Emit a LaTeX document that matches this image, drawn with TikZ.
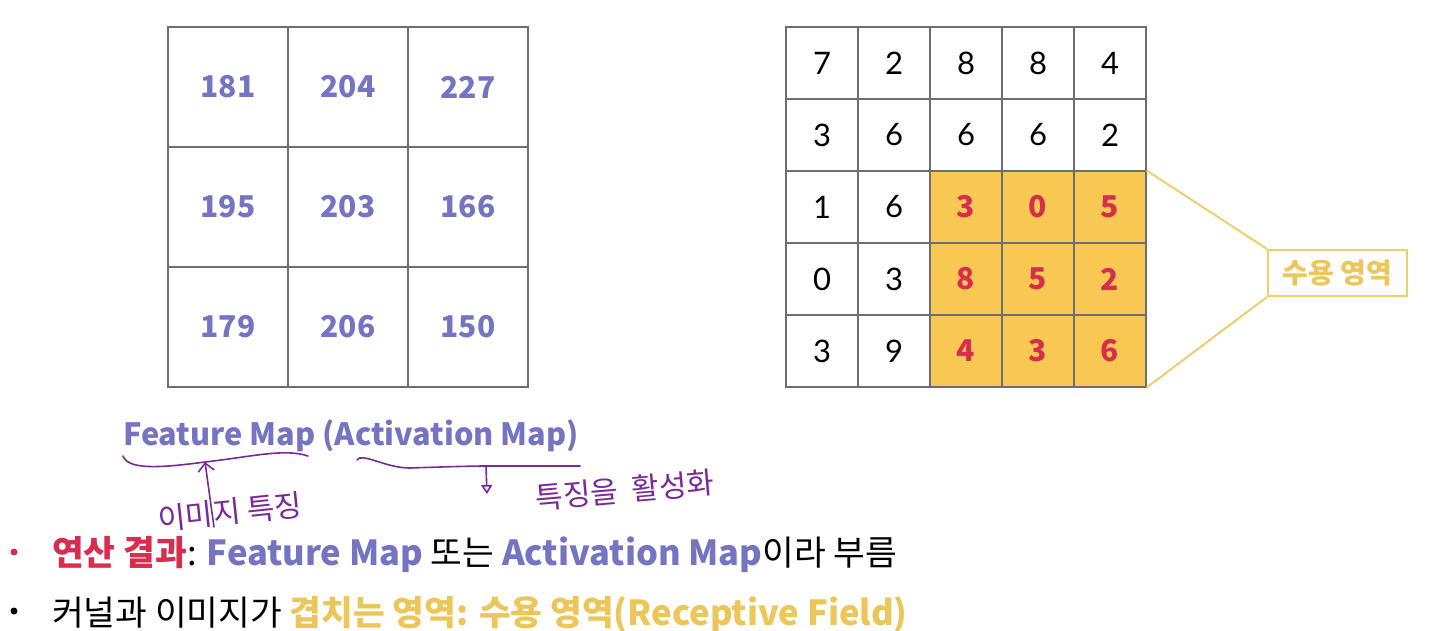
\documentclass[tikz,border=0pt]{standalone}
\usepackage{fontspec}
\setmainfont{Lato}
\newfontfamily\kr{Noto Sans CJK KR}
\usetikzlibrary{arrows.meta}
\definecolor{peri}{HTML}{7474C2}
\definecolor{crim}{HTML}{D92D4F}
\definecolor{cellfill}{HTML}{F8C852}
\definecolor{ylw}{HTML}{EDC659}
\definecolor{ylwline}{HTML}{F0CF6B}
\definecolor{pen}{HTML}{7A2A96}
\definecolor{gridc}{HTML}{6E6E6E}
\tikzset{
  lcell/.style={draw=gridc, line width=1.1pt, minimum size=120pt, inner sep=0pt, text=peri, font=\kr\bfseries\fontsize{30}{30}\selectfont},
  rcell/.style={draw=gridc, line width=1.1pt, minimum size=72pt, inner sep=0pt, text=black, font=\fontsize{31}{31}\selectfont},
  hcell/.style={rcell, fill=cellfill, text=crim, font=\kr\bfseries\fontsize{30}{30}\selectfont},
  rfbox/.style={draw=ylwline, line width=2pt, minimum width=139pt, minimum height=46pt, inner sep=0pt, text=ylw, font=\kr\bfseries\fontsize{28}{28}\selectfont},
  rfline/.style={draw=ylwline, line width=2pt},
  hand/.style={draw=pen, line width=1.6pt, line cap=round, line join=round},
  handtxt/.style={text=pen, font=\kr\fontsize{30}{30}\selectfont, inner sep=0pt},
  bullettxt/.style={anchor=base west, inner sep=0pt, font=\kr\fontsize{34.5}{34.5}\selectfont},
  dot/.style={circle, inner sep=0pt, minimum size=7pt}
}
\begin{document}
\begin{tikzpicture}[x=1pt,y=-1pt]
\useasboundingbox[fill=white] (0,0) rectangle (1433,631);
% left grid (feature map)
\foreach \i/\j/\v in {0/0/181,1/0/204,2/0/227,0/1/195,1/1/203,2/1/166,0/2/179,1/2/206,2/2/150}
  \node[lcell] (L\i\j) at ({228+120*\i},{87+120*\j}) {\v};
% right grid (input)
\foreach \i/\j/\v in {0/0/7,1/0/2,2/0/8,3/0/8,4/0/4,
                      0/1/3,1/1/6,2/1/6,3/1/6,4/1/2,
                      0/2/1,1/2/6,0/3/0,1/3/3,0/4/3,1/4/9}
  \node[rcell] (R\i\j) at ({822+72*\i},{63+72*\j}) {\v};
\foreach \i/\j/\v in {2/2/3,3/2/0,4/2/5,2/3/8,3/3/5,4/3/2,2/4/4,3/4/3,4/4/6}
  \node[hcell] (R\i\j) at ({822+72*\i},{63+72*\j}) {\v};
% receptive field label
\node[rfbox] (rf) at (1337.5,273) {수용 영역};
\draw[rfline] (R42.north east) -- (rf.north west);
\draw[rfline] (R44.south east) -- (rf.south west);
% title
\node[anchor=base west, inner sep=0pt, text=peri, font=\kr\bfseries\fontsize{30.7}{30.7}\selectfont] (title) at (123,445) {Feature Map (Activation Map)};
% handwriting
\coordinate (h1a) at (123,456);
\coordinate (h1m) at (205,462);
\coordinate (h1b) at (308,456);
\draw[hand] (h1a) .. controls (128,470) and (160,468) .. (h1m) .. controls (250,457) and (285,448) .. (h1b);
\coordinate (a1s) at (214,527);
\draw[hand,-{Straight Barb[length=8pt,width=16pt]}] (a1s) -- (h1m);
\node[handtxt, rotate=6] (hw1) at (230,512) {이미지 특징};
\coordinate (h2a) at (357,460);
\coordinate (h2m) at (486,466);
\coordinate (h2b) at (580,466);
\draw[hand] (h2a) .. controls (362,452) and (385,468) .. (410,468) .. controls (440,467) and (470,466) .. (h2m) -- (h2b);
\coordinate (a2e) at (487,494);
\draw[hand,-{Triangle[open,length=9pt,width=11pt]}] (h2m) -- (a2e);
\node[handtxt, rotate=5] (hw2) at (625,490) {특징을 \ 활성화};
% bullets
\node[dot, fill=crim] (b1) at (14,552) {};
\node[bullettxt] (t1) at (52,565) {\textcolor{crim}{\bfseries 연산 결과}: \textcolor{peri}{\bfseries Feature Map} 또는 \textcolor{peri}{\bfseries Activation Map}이라 부름};
\node[dot, fill=black] (b2) at (14,611) {};
\node[bullettxt] (t2) at (52,625) {커널과 이미지가 \textcolor{ylw}{\bfseries 겹치는 영역: 수용 영역(Receptive Field)}};
\end{tikzpicture}
\end{document}
